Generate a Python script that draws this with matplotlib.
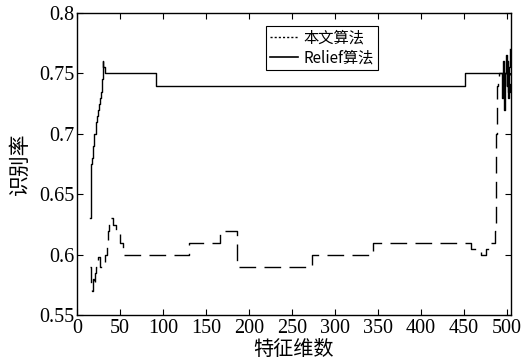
import matplotlib
matplotlib.use("Agg")
import matplotlib.pyplot as plt
from matplotlib.lines import Line2D

# 本文算法 (dashed) step data
ours_x = [15, 16, 17, 18, 19, 20, 21, 22, 24, 25, 27, 31, 33, 35, 36, 37, 42, 46, 50, 54,
          130, 167, 186, 273, 345, 458, 470, 476, 481, 486, 488, 489, 490, 491, 500, 502, 504]
ours_y = [0.59, 0.58, 0.575, 0.57, 0.58, 0.575, 0.585, 0.59, 0.595, 0.598, 0.59, 0.59, 0.60, 0.61,
          0.62, 0.63, 0.625, 0.62, 0.61, 0.60,
          0.61, 0.62, 0.59, 0.60, 0.61, 0.605, 0.60, 0.605, 0.61, 0.62, 0.70, 0.74, 0.745, 0.75, 0.75,
          0.735, 0.75]

# Relief算法 (solid)
relief_x = [15, 16, 17, 18, 19, 20, 22, 24, 25, 26, 27, 28, 29, 30, 31, 33,
            92, 452, 495, 496, 497, 498, 499, 500, 501, 502, 503, 504]
relief_y = [0.63, 0.66, 0.675, 0.68, 0.69, 0.70, 0.71, 0.715, 0.72, 0.725, 0.73, 0.735, 0.745,
            0.76, 0.755, 0.75,
            0.74, 0.75, 0.73, 0.76, 0.72, 0.75, 0.765, 0.74, 0.76, 0.73, 0.755, 0.77]

x_ticks = list(range(0, 501, 50))
y_ticks = [0.55, 0.6, 0.65, 0.7, 0.75, 0.8]
y_tick_labels = ["0.55", "0.6", "0.65", "0.7", "0.75", "0.8"]

serif = ["Liberation Serif", "DejaVu Serif"]
cjk = ["Noto Sans CJK SC", "DejaVu Sans"]

fig = plt.figure(figsize=(5.3, 3.61), dpi=100)
ax = fig.add_axes([0.145, 0.127, 0.819, 0.837])

ax.plot(ours_x, ours_y, color="black", lw=1.0, drawstyle="steps-post",
        dashes=(12, 6), label="本文算法")
ax.plot(relief_x, relief_y, color="black", lw=1.0, drawstyle="steps-post",
        label="Relief算法")

ax.set_xlim(0, 505)
ax.set_ylim(0.55, 0.8)
ax.set_xticks(x_ticks)
ax.set_xticklabels([str(v) for v in x_ticks], fontfamily=serif, fontsize=14.5)
ax.set_yticks(y_ticks)
ax.set_yticklabels(y_tick_labels, fontfamily=serif, fontsize=14.5)
ax.tick_params(direction="in", top=True, right=True, length=4, width=0.8)
ax.tick_params(axis="x", pad=3)
ax.tick_params(axis="y", pad=2)
for s in ax.spines.values():
    s.set_linewidth(1.0)

ax.set_xlabel("特征维数", fontfamily=cjk, fontsize=14.5, labelpad=0.5)
ax.set_ylabel("识别率", fontfamily=cjk, fontsize=15, labelpad=6)

handles = [Line2D([], [], color="black", lw=1.0, ls=(0, (1.5, 1.5))),
           Line2D([], [], color="black", lw=1.2)]
leg = ax.legend(handles, ["本文算法", "Relief算法"], loc="upper center",
                bbox_to_anchor=(0.565, 0.957), prop={"family": cjk, "size": 11},
                frameon=True, fancybox=False, edgecolor="black", framealpha=1,
                handlelength=1.8, handletextpad=0.4, borderpad=0.25, labelspacing=0.15,
                borderaxespad=0)
leg.get_frame().set_linewidth(0.8)

fig.savefig("out.png", dpi=100)
